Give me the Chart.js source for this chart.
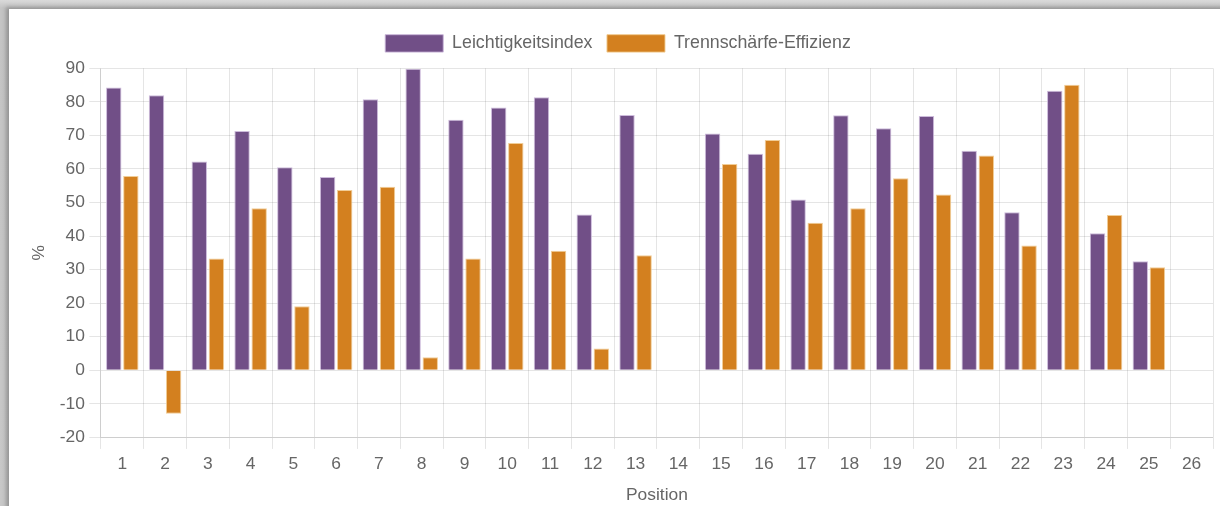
<!DOCTYPE html>
<html>
<head>
<meta charset="utf-8">
<script src="https://cdn.jsdelivr.net/npm/chart.js@4.4.1/dist/chart.umd.min.js"></script>
<style>
  html, body { margin: 0; padding: 0; }
  body {
    width: 1220px; height: 506px; overflow: hidden;
    background: linear-gradient(#dadada, #c4c4c4 8px, #c8c8c8);
    position: relative;
  }
  .card {
    position: absolute; left: 9px; top: 9px; width: 1220px; height: 510px;
    background: #fff;
    box-shadow: -3px -2px 4px rgba(0,0,0,0.25);
  }
  canvas { display: block; }
</style>
</head>
<body>
<div class="card"><canvas id="c" width="1211" height="502"></canvas></div>
<script>
const positions = ['1','2','3','4','5','6','7','8','9','10','11','12','13','14','15','16','17','18','19','20','21','22','23','24','25','26'];
const leichtigkeitsindex = [84.3, 82.0, 62.2, 71.3, 60.5, 57.6, 80.8, 89.9, 74.7, 78.3, 81.4, 46.4, 76.1, null, 70.6, 64.5, 50.9, 76.0, 72.1, 75.8, 65.4, 47.1, 83.3, 40.8, 32.5, null];
const trennschaerfeEffizienz = [57.9, -13.0, 33.3, 48.3, 19.1, 53.7, 54.7, 3.9, 33.3, 67.7, 35.6, 6.5, 34.3, null, 61.5, 68.6, 44.0, 48.3, 57.2, 52.4, 64.0, 37.2, 85.1, 46.3, 30.7, null];

// the whole chart is drawn at 1.45x the library's default sizes
const S = 1.45;
const font = { family: 'Liberation Sans, Arial, sans-serif', size: 12 * S };
const legendFont = { family: 'Liberation Sans, Arial, sans-serif', size: 17.8 };

// extra room between the legend and the plot area
const legendSpacing = {
  id: 'legendSpacing',
  beforeInit(chart) {
    const fit = chart.legend.fit;
    chart.legend.fit = function () {
      fit.call(this);
      this.height += 6;
    };
  }
};

new Chart(document.getElementById('c'), {
  type: 'bar',
  data: {
    labels: positions,
    datasets: [
      {
        label: 'Leichtigkeitsindex',
        data: leichtigkeitsindex,
        backgroundColor: '#714f87',
        borderColor: 'rgba(200,180,215,0.9)',
        borderWidth: 1
      },
      {
        label: 'Trennschärfe-Effizienz',
        data: trennschaerfeEffizienz,
        backgroundColor: '#d3801f',
        borderColor: 'rgba(240,200,140,0.9)',
        borderWidth: 1
      }
    ]
  },
  plugins: [legendSpacing],
  options: {
    responsive: false,
    animation: false,
    layout: { padding: { left: 14, right: 7, top: 11, bottom: 0 } },
    plugins: {
      legend: {
        labels: { color: '#666', font: legendFont, boxWidth: 40 * S, boxHeight: 12 * S, padding: 10 * S }
      },
      tooltip: { enabled: false }
    },
    scales: {
      x: {
        grid: { color: 'rgba(0,0,0,0.1)', tickLength: 8 * S },
        ticks: { color: '#666', font: font, padding: 3 * S },
        title: { display: true, text: 'Position', color: '#666', font: font, padding: 4 * S }
      },
      y: {
        min: -20, max: 90,
        grid: { color: 'rgba(0,0,0,0.1)', tickLength: 8 * S },
        ticks: { stepSize: 10, color: '#666', font: font, padding: 3 * S },
        title: { display: true, text: '%', color: '#666', font: font, padding: 4 * S }
      }
    }
  }
});
</script>
</body>
</html>
